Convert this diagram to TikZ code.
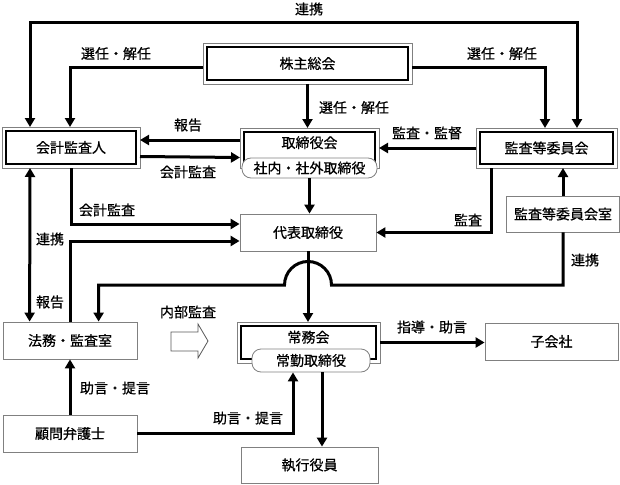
\documentclass[tikz,border=0pt]{standalone}
\usepackage{fontspec}
\setmainfont{Noto Sans CJK JP}[FakeBold=0.6]
\usetikzlibrary{arrows.meta}
\tikzset{
  every node/.style={font=\fontsize{14}{16}\selectfont},
  plain/.style={draw=gray,line width=.8pt,fill=white,minimum width=#1,minimum height=37pt,inner sep=0pt},
  dbl/.style={draw=black,line width=2.8pt,fill=white,inner sep=0pt,outer sep=4pt},
  outframe/.style={draw=gray,line width=.7pt},
  subbox/.style={draw=gray,line width=.8pt,fill=white,rounded corners=9pt,inner sep=0pt},
  flow/.style={line width=3pt,-{Triangle[length=9pt,width=10pt]}},
  flowboth/.style={line width=3pt,{Triangle[length=9pt,width=10pt]}-{Triangle[length=9pt,width=10pt]}},
  hollow/.style={draw=gray!70!black,line width=.8pt,fill=white},
}
\begin{document}
\begin{tikzpicture}[x=1pt,y=-1pt]
\useasboundingbox[fill=white] (0,0) rectangle (620,484);
\node[dbl,minimum width=201pt,minimum height=33pt] (soukai) at (307.5,63.5) {株主総会};
\node[dbl,minimum width=130pt,minimum height=33pt] (kaikei) at (71,147.5) {会計監査人};
\node[dbl,minimum width=131pt,minimum height=32pt,text height=6pt,text depth=6pt] (torikai) at (309.5,148) {取締役会};
\node[dbl,minimum width=133pt,minimum height=32pt] (iinkai) at (546.5,148) {監査等委員会};
\node[dbl,minimum width=135pt,minimum height=33pt,text height=6pt,text depth=6pt] (joumu) at (308.5,342.5) {常務会};
\foreach \n in {soukai,kaikei,torikai,iinkai,joumu}
  \draw[outframe] (\n.north west) rectangle (\n.south east);
\node[subbox,minimum width=135pt,minimum height=20pt] (shanai) at (torikai.south) {社内・社外取締役};
\node[subbox,minimum width=118pt,minimum height=23pt] (joukin) at (311,360.5) {常勤取締役};
\node[plain=136pt] (daihyo) at (308,232.5) {代表取締役};
\node[plain=113pt,minimum height=36pt] (shitsu) at (563,214) {監査等委員会室};
\node[plain=134pt] (houmu) at (70,340.5) {法務・監査室};
\node[plain=134pt] (komon) at (70,433.5) {顧問弁護士};
\node[plain=133pt] (kogaisha) at (551.5,341.5) {子会社};
\node[plain=137pt,minimum height=36pt] (shikkou) at (309.5,465) {執行役員};
\coordinate (top) at (305,23);
\coordinate (hop) at (308,285);
% arrows
\draw[flowboth] ([xshift=28pt]kaikei.north west) |- (top) -| ([xshift=-40pt]iinkai.north east);
\draw[flow] ([yshift=-4pt]soukai.west) -| ([xshift=68pt]kaikei.north west);
\draw[flow] ([yshift=-4pt]soukai.east) -| ([xshift=-72pt]iinkai.north east);
\draw[flow] (soukai.south) -- (soukai.south |- torikai.north);
\draw[flow] ([yshift=8pt]torikai.west) -- ([yshift=7.5pt]kaikei.east);
\draw[flow] ([yshift=-9pt]kaikei.east) -- ([yshift=-9.5pt]torikai.west);
\draw[flow] (iinkai.west) -- (torikai.east);
\draw[flow] (shanai.south) -- (shanai.south |- daihyo.north);
\draw[flow] ([xshift=69pt]kaikei.south west) |- ([yshift=8.5pt]daihyo.west);
\draw[flow] ([xshift=68pt]houmu.north west) |- ([yshift=-8.5pt]daihyo.west);
\draw[flow] ([xshift=-126pt]iinkai.south east) |- (daihyo.east);
\draw[flow] (shitsu.north) -- (shitsu.north |- iinkai.south);
\draw[flow] (shitsu.south) |- ([xshift=23.5pt]hop) arc[start angle=0,end angle=180,radius=23.5pt] -| ([xshift=96pt]houmu.north west);
\draw[flow] (daihyo.south) -- (daihyo.south |- joumu.north);
\draw[flowboth] ([xshift=28pt]kaikei.south west) -- ([xshift=27pt]houmu.north west);
\draw[flow] (komon.north) -- (houmu.south);
\draw[flow] (komon.east) -| ([xshift=-18pt]joukin.south);
\draw[flow] ([xshift=11pt]joukin.south) -- ([xshift=11pt]joukin.south |- shikkou.north);
\draw[flow] (joumu.east) -- (joumu.east -| kogaisha.west);
\draw[hollow] (171,332) -- (198,332) -- (198,324) -- (208,341) -- (198,358) -- (198,351) -- (171,351) -- cycle;
% labels
\node (lrenkei1) at (309,9) {連携};
\node (lsennin1) at (116,53.5) {選任・解任};
\node (lsennin2) at (502,53.5) {選任・解任};
\node (lsennin3) at (354,107.5) {選任・解任};
\node (lhoukoku1) at (188,125) {報告};
\node (lkaikei1) at (188,172) {会計監査};
\node (lkansatoku) at (427,133) {監査・監督};
\node (lkaikei2) at (107,210) {会計監査};
\node (lrenkei2) at (50,239) {連携};
\node (lhoukoku2) at (50,302) {報告};
\node (lkansa) at (468,220) {監査};
\node (lrenkei3) at (585,260) {連携};
\node (lnaibu) at (188,312) {内部監査};
\node (lshidou) at (432,327) {指導・助言};
\node (ljogen1) at (115,388) {助言・提言};
\node (ljogen2) at (248,418) {助言・提言};
\end{tikzpicture}
\end{document}
